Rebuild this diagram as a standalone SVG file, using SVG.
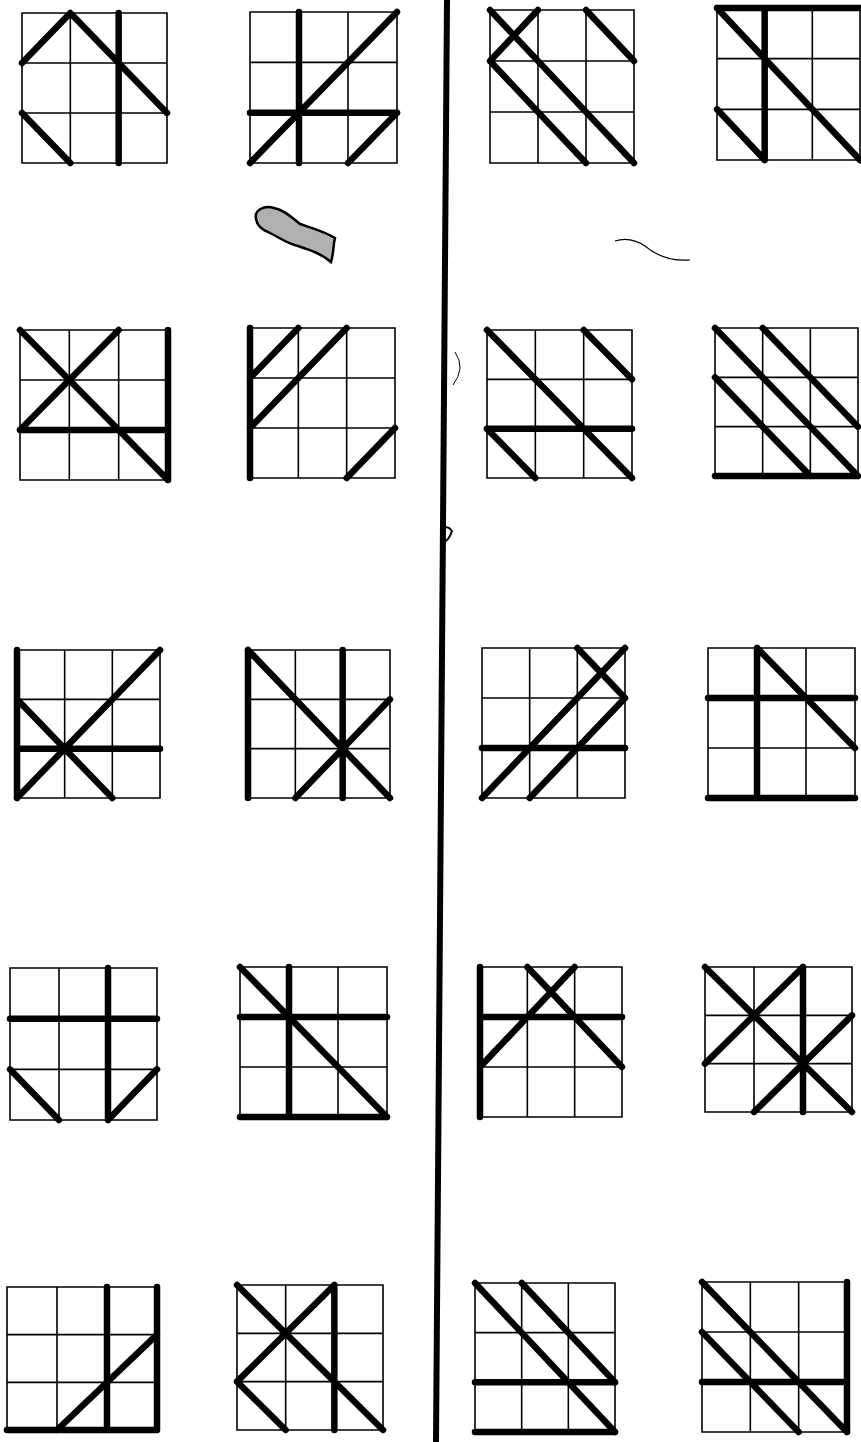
<svg xmlns="http://www.w3.org/2000/svg" xmlns:xlink="http://www.w3.org/1999/xlink" width="861" height="1442" viewBox="0 0 861 1442">
<style>
.thin{fill:none;stroke:#000;stroke-width:1.6;vector-effect:non-scaling-stroke}
.t{fill:none;stroke:#000;stroke-width:6.5;stroke-linecap:round;stroke-linejoin:round;vector-effect:non-scaling-stroke}
</style>
<defs>
<path id="cells" class="thin" d="M0,0H3V3H0Z M1,0V3 M2,0V3 M0,1H3 M0,2H3"/>
</defs>
<rect width="861" height="1442" fill="#fff"/>
<g id="divider"><line x1="447" y1="0" x2="436" y2="1442" stroke="#000" stroke-width="6"/></g>
<g id="grid-a" transform="translate(22,13) scale(48.33,50)"><use href="#cells"/><path class="t" d="M0,1L1,0L3,2 M2,0V3 M0,2L1,3"/></g>
<g id="grid-b" transform="translate(250,12) scale(49,50.33)"><use href="#cells"/><path class="t" d="M1,0V3 M0,2H3 M0,3L3,0 M2,3L3,2"/></g>
<g id="grid-c" transform="translate(490,10) scale(48,51)"><use href="#cells"/><path class="t" d="M0,0L3,3 M1,0L0,1 M0,1L2,3 M2,0L3,1"/></g>
<g id="grid-d" transform="translate(717,8) scale(47.67,50.67)"><use href="#cells"/><path class="t" d="M0,0H3 M1,0V3 M0,0L3,3 M0,2L1,3"/></g>
<g id="grid-e" transform="translate(20,330) scale(49.33,50)"><use href="#cells"/><path class="t" d="M0,0L3,3 M0,2L2,0 M0,2H3 M3,0V3"/></g>
<g id="grid-f" transform="translate(250,328) scale(48.33,50)"><use href="#cells"/><path class="t" d="M0,0V3 M0,1L1,0 M0,2L2,0 M2,3L3,2"/></g>
<g id="grid-g" transform="translate(487,330) scale(48.33,49.33)"><use href="#cells"/><path class="t" d="M0,0L3,3 M2,0L3,1 M0,2H3 M0,2L1,3"/></g>
<g id="grid-h" transform="translate(715,328) scale(47.67,49.33)"><use href="#cells"/><path class="t" d="M0,0L3,3 M1,0L3,2 M0,1L2,3 M0,3H3"/></g>
<g id="grid-i" transform="translate(17,650) scale(47.67,49.33)"><use href="#cells"/><path class="t" d="M0,0V3 M0,1L2,3 M0,3L3,0 M0,2H3"/></g>
<g id="grid-j" transform="translate(248,650) scale(47.33,49.33)"><use href="#cells"/><path class="t" d="M0,0V3 M2,0V3 M0,0L3,3 M1,3L3,1"/></g>
<g id="grid-k" transform="translate(482,648) scale(47.67,50)"><use href="#cells"/><path class="t" d="M2,0L3,1 M0,3L3,0 M1,3L3,1 M0,2H3"/></g>
<g id="grid-l" transform="translate(708,648) scale(49,50)"><use href="#cells"/><path class="t" d="M1,0V3 M0,1H3 M1,0L3,2 M0,3H3"/></g>
<g id="grid-m" transform="translate(10,968) scale(49,50.67)"><use href="#cells"/><path class="t" d="M0,1H3 M2,0V3 M0,2L1,3 M2,3L3,2"/></g>
<g id="grid-n" transform="translate(240,967) scale(49,50)"><use href="#cells"/><path class="t" d="M0,0L3,3 M1,0V3 M0,1H3 M0,3H3"/></g>
<g id="grid-o" transform="translate(480,967) scale(47.33,50)"><use href="#cells"/><path class="t" d="M0,0V3 M1,0L3,2 M2,0L0,2 M0,1H3"/></g>
<g id="grid-p" transform="translate(705,967) scale(49,48.33)"><use href="#cells"/><path class="t" d="M0,0L3,3 M0,2L2,0 M2,0V3 M1,3L3,1"/></g>
<g id="grid-q" transform="translate(7,1287) scale(50,47.67)"><use href="#cells"/><path class="t" d="M2,0V3 M3,0V3 M0,3H3 M1,3L3,1"/></g>
<g id="grid-r" transform="translate(237,1285) scale(48.67,48.33)"><use href="#cells"/><path class="t" d="M0,0L3,3 M0,2L2,0 M2,0V3 M0,2L1,3"/></g>
<g id="grid-s" transform="translate(475,1283) scale(46.67,49.67)"><use href="#cells"/><path class="t" d="M0,0L3,3 M1,0L3,2 M0,2H3 M0,3H3"/></g>
<g id="grid-t" transform="translate(702,1282) scale(48.33,50)"><use href="#cells"/><path class="t" d="M0,0L3,3 M0,1L2,3 M3,0V3 M0,2H3"/></g>
<g id="marks">
<path d="M256,219 C254,210 264,205 274,208 C285,210 292,218 300,224 C312,228 326,232 335,238 C333,245 334,252 331,262 C322,254 310,250 298,246 C288,244 280,238 270,233 C262,230 257,226 256,219 Z" fill="#b0b0b0" stroke="#000" stroke-width="2.5"/>
<path d="M615,241 Q630,236 645,246 Q664,262 690,260" fill="none" stroke="#000" stroke-width="1.2"/>
<path d="M455,352 Q466,368 453,385" fill="none" stroke="#000" stroke-width="1"/>
<path d="M443,530 Q447,524 452,531 Q449,540 444,542" fill="none" stroke="#000" stroke-width="2"/>
</g>
</svg>
